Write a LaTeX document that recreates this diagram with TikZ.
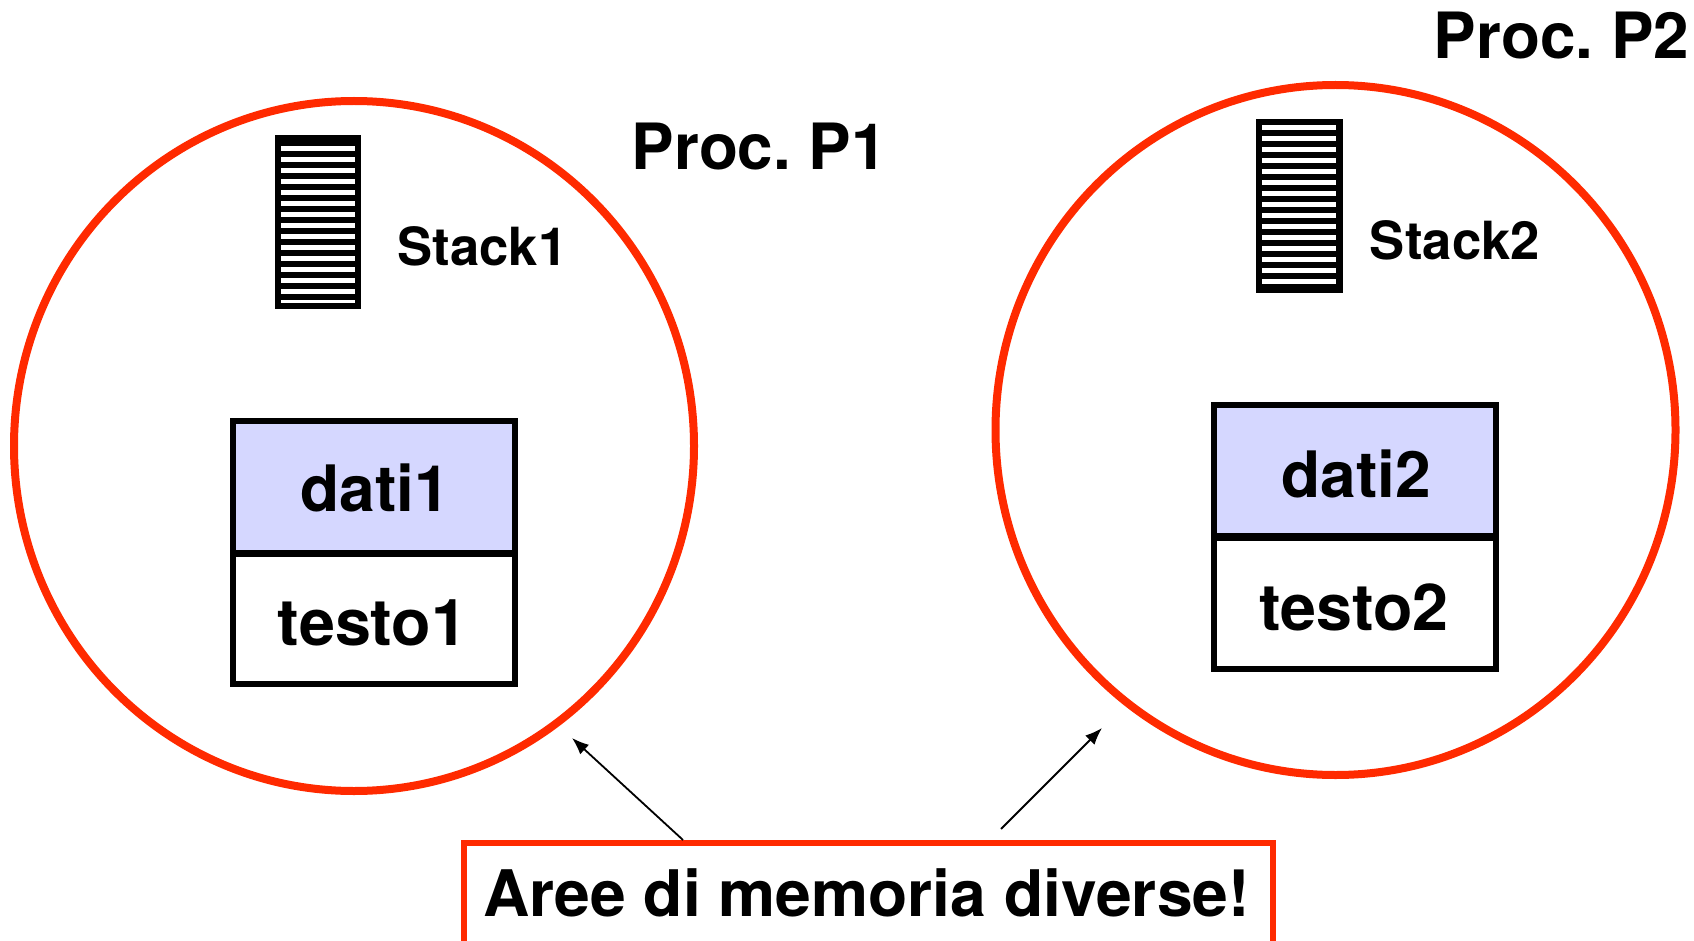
\documentclass[tikz,border=0pt]{standalone}
\usepackage{fontspec}
\setmainfont{TeX Gyre Heros}
\frenchspacing
\usetikzlibrary{arrows.meta,shapes.geometric}
\definecolor{procred}{HTML}{FF2A00}
\definecolor{datafill}{HTML}{D5D7FF}
\tikzset{
  x=1pt,y=-1pt,
  proc/.style={draw=procred,line width=8pt,ellipse,inner sep=0pt,outer sep=0pt,minimum width=680pt,minimum height=690pt},
  seg/.style={draw=black,line width=6pt,rectangle,inner sep=0pt,outer sep=0pt,minimum width=282pt,font=\fontsize{64}{64}\bfseries,text depth=0pt},
  dataseg/.style={seg,fill=datafill},
  textseg/.style={seg,font=\fontsize{64.6}{64}\bfseries},
  stackbox/.style={fill=black,inner sep=0pt,outer sep=0pt,minimum width=86.5pt,minimum height=174pt},
  stripe/.style={fill=white},
  biglabel/.style={anchor=base,inner sep=0pt,font=\fontsize{63.8}{64}\bfseries},
  midlabel/.style={anchor=base,inner sep=0pt,font=\fontsize{52.6}{52}\bfseries},
  notebox/.style={draw=procred,line width=6.5pt,rectangle,inner sep=0pt,outer sep=0pt,minimum width=809pt,minimum height=103pt,text height=44pt,text depth=0pt,font=\fontsize{64.2}{64}\bfseries},
  pointer/.style={draw=black,line width=1.8pt,-{Latex[length=17pt,width=13pt]}}
}
\begin{document}
\begin{tikzpicture}
\useasboundingbox (0,0) rectangle (1694,941);
\clip (0,0) rectangle (1694,941);
\node[proc] (p1) at (354,446) {};
\node[proc] (p2) at (1335.5,430) {};
% process 1
\node[stackbox] (s1) at (318,222) {};
\foreach \i in {0,...,13} \fill[stripe] (281,146+11*\i) rectangle (355,151.5+11*\i);
\fill[stripe] (281,300) rectangle (355,303.3);
\node[midlabel] (s1l) at (482.2,266) {Stack1};
\node[biglabel] (l1) at (759.3,170) {Proc. P1};
\node[dataseg,minimum height=132pt,text height=49.4pt] (d1) at (374,487) {\kern2pt dati1};
\node[textseg,minimum height=130pt,text height=52pt] (t1) at (374,619) {\kern-3pt testo1};
% process 2
\node[stackbox] (s2) at (1299.5,206) {};
\foreach \i in {0,...,14} \fill[stripe] (1262.3,125+11*\i) rectangle (1336,130.5+11*\i);
\node[midlabel] (s2l) at (1455,260) {Stack2};
\node[biglabel] (l2) at (1561.5,59) {Proc. P2};
\node[dataseg,minimum height=131pt,text height=53.4pt] (d2) at (1355,470.5) {\kern3pt dati2};
\node[textseg,minimum height=131pt,text height=54.6pt] (t2) at (1355,603.5) {\kern-2pt testo2};
% note
\node[notebox] (note) at (868.5,894.5) {\kern-4pt Aree di memoria diverse!};
\coordinate (a1s) at (683,840);
\coordinate (a1e) at (572,738);
\coordinate (a2s) at (1001,829);
\coordinate (a2e) at (1102,728);
\draw[pointer] (a1s) -- (a1e);
\draw[pointer] (a2s) -- (a2e);
\end{tikzpicture}
\end{document}
